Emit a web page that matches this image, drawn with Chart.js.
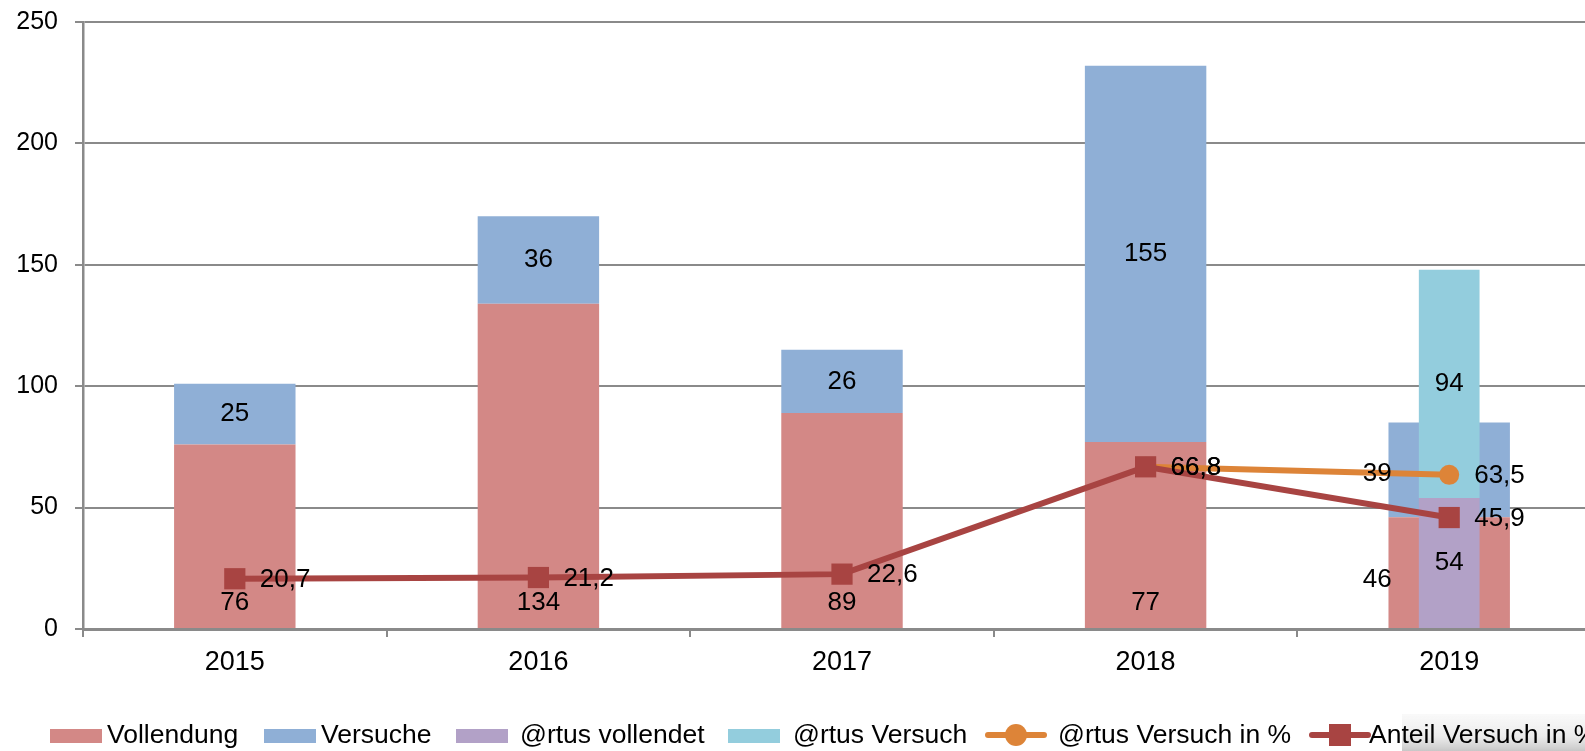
<!DOCTYPE html>
<html>
<head>
<meta charset="utf-8">
<script src="https://cdn.jsdelivr.net/npm/chart.js@4/dist/chart.umd.min.js"></script>
<style>
  html, body { margin: 0; padding: 0; background: #fff; overflow: hidden; }
  #wrap { width: 1585px; height: 751px; overflow: hidden; position: relative; }
  #c { width: 1616px; height: 751px; display: block; }
</style>
</head>
<body>
<div id="wrap"><canvas id="c" width="1616" height="751" style="width:1616px;height:751px"></canvas></div>
<script>
const categories = ['2015', '2016', '2017', '2018', '2019'];
const vollendung = [76, 134, 89, 77, 46];
const versuche = [25, 36, 26, 155, 39];
const artusVollendet = [null, null, null, null, 54];
const artusVersuch = [null, null, null, null, 94];
const artusVersuchPct = [null, null, null, 66.8, 63.5];
const anteilVersuchPct = [20.7, 21.2, 22.6, 66.8, 45.9];
const yTickValues = [0, 50, 100, 150, 200, 250];

const FONT = '"Liberation Sans", Arial, sans-serif';
const GRID = '#8A8A8A';

const fmt = v => String(v).replace('.', ',');

const labelPlugin = {
  id: 'valueLabels',
  afterDatasetsDraw(chart) {
    const ctx = chart.ctx;
    ctx.save();
    ctx.font = '26px ' + FONT;
    ctx.fillStyle = '#000';
    ctx.textBaseline = 'middle';
    chart.data.datasets.forEach((ds, di) => {
      const meta = chart.getDatasetMeta(di);
      meta.data.forEach((el, i) => {
        const v = ds.data[i];
        if (v == null) return;
        const txt = fmt(v);
        let x, y;
        if (ds.type === 'line') {
          ctx.textAlign = 'left';
          x = el.x + 25; y = el.y + 1;
        } else {
          ctx.textAlign = 'center';
          const mid = (el.y + el.base) / 2;
          const shared = ds.stack === 'main' && artusVersuch[i] != null;
          if (shared) {
            x = el.x - 72; y = mid + (ds.labelPos === 'base' ? 7 : 4);
          } else if (ds.labelPos === 'base') {
            x = el.x; y = el.base - 25;
          } else {
            x = el.x; y = mid;
          }
        }
        ctx.fillText(txt, x, y);
      });
    });
    ctx.restore();
  }
};

const legendPlugin = {
  id: 'bottomLegend',
  afterDraw(chart) {
    const ctx = chart.ctx;
    const itemX = [50, 264, 456, 728, 988, 1312];
    const textX = [107, 321, 520, 793, 1058, 1369];
    const cy = 735;
    ctx.save();
    // faint grey patch behind the last legend entry, as in the source image
    const g = ctx.createLinearGradient(0, 714, 0, 751);
    g.addColorStop(0, 'rgba(240,240,240,0.4)');
    g.addColorStop(0.6, 'rgba(222,222,222,0.6)');
    g.addColorStop(1, 'rgba(185,185,185,0.8)');
    ctx.fillStyle = g;
    ctx.fillRect(1402, 714, 220, 37);
    ctx.font = '26.5px ' + FONT;
    ctx.textBaseline = 'middle';
    ctx.textAlign = 'left';
    chart.data.datasets.forEach((ds, i) => {
      const x0 = itemX[i];
      if (ds.type === 'line') {
        ctx.strokeStyle = ds.borderColor;
        ctx.lineWidth = 6;
        ctx.lineCap = 'round';
        ctx.beginPath();
        ctx.moveTo(x0, cy); ctx.lineTo(x0 + 56, cy);
        ctx.stroke();
        ctx.fillStyle = ds.pointBackgroundColor;
        if (ds.pointStyle === 'rect') {
          ctx.fillRect(x0 + 28 - 11, cy - 11, 22, 22);
        } else {
          ctx.beginPath();
          ctx.arc(x0 + 28, cy, 11, 0, Math.PI * 2);
          ctx.fill();
        }
      } else {
        ctx.fillStyle = ds.backgroundColor;
        ctx.fillRect(x0, cy - 6, 52, 14);
      }
      ctx.fillStyle = '#000';
      ctx.fillText(ds.label, textX[i], cy + 1);
    });
    ctx.restore();
  }
};

new Chart(document.getElementById('c'), {
  data: {
    labels: categories,
    datasets: [
      { type: 'bar', label: 'Vollendung', data: vollendung, backgroundColor: '#D38886', stack: 'main', grouped: false, barPercentage: 0.4, categoryPercentage: 1, order: 3, labelPos: 'base' },
      { type: 'bar', label: 'Versuche', data: versuche, backgroundColor: '#8FAFD6', stack: 'main', grouped: false, barPercentage: 0.4, categoryPercentage: 1, order: 3, labelPos: 'center' },
      { type: 'bar', label: '@rtus vollendet', data: artusVollendet, backgroundColor: '#B2A1C7', stack: 'artus', grouped: false, barPercentage: 0.2, categoryPercentage: 1, order: 2, labelPos: 'center' },
      { type: 'bar', label: '@rtus Versuch', data: artusVersuch, backgroundColor: '#93CDDD', stack: 'artus', grouped: false, barPercentage: 0.2, categoryPercentage: 1, order: 2, labelPos: 'center' },
      { type: 'line', label: '@rtus Versuch in %', data: artusVersuchPct, stack: 'pctArtus', borderColor: '#DD8438', backgroundColor: '#DD8438', pointBackgroundColor: '#DD8438', pointBorderColor: '#DD8438', borderWidth: 6, pointStyle: 'circle', pointRadius: 10, pointBorderWidth: 0, order: 1 },
      { type: 'line', label: 'Anteil Versuch in %', data: anteilVersuchPct, stack: 'pctAnteil', borderColor: '#A84442', backgroundColor: '#A84442', pointBackgroundColor: '#A84442', pointBorderColor: '#A84442', borderWidth: 6, pointStyle: 'rect', pointRadius: 15, pointBorderWidth: 0, order: 0 }
    ]
  },
  options: {
    responsive: false,
    animation: false,
    events: [],
    layout: { padding: { top: 22, right: 1, bottom: 0, left: 0 } },
    plugins: { legend: { display: false }, tooltip: { enabled: false } },
    scales: {
      x: {
        stacked: true,
        afterFit: s => { s.height = 122; s.paddingLeft = 0; s.paddingRight = 0; },
        grid: { offset: true, drawOnChartArea: false, drawTicks: true, tickLength: 8, color: GRID, lineWidth: 2 },
        border: { display: true, color: GRID, width: 3 },
        ticks: { color: '#000', font: { family: FONT, size: 27 }, padding: 9 }
      },
      y: {
        stacked: true,
        min: 0, max: 250,
        afterFit: s => { s.width = 83; s.paddingTop = 0; s.paddingBottom = 0; },
        afterBuildTicks: s => { s.ticks = yTickValues.map(v => ({ value: v })); },
        grid: { color: GRID, lineWidth: 2, tickLength: 8, drawTicks: true },
        border: { display: true, color: GRID, width: 2.5 },
        ticks: { color: '#000', font: { family: FONT, size: 25 }, padding: 17 }
      }
    }
  },
  plugins: [labelPlugin, legendPlugin]
});
</script>
</body>
</html>
